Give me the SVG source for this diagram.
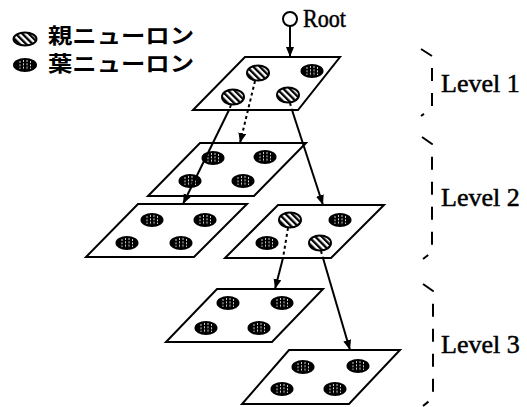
<svg xmlns="http://www.w3.org/2000/svg" width="527" height="407" viewBox="0 0 527 407">
  <style>
    .plane { fill: #fff; stroke: #000; stroke-width: 2; stroke-linejoin: miter; }
    .link { fill: none; stroke: #000; stroke-width: 2; }
    .hidden { fill: none; stroke: #000; stroke-width: 2; stroke-dasharray: 3 3; }
    .bracket { fill: none; stroke: #000; stroke-width: 2; stroke-dasharray: 13 12; }
    .lbl { font-family: "Liberation Serif", "DejaVu Serif", serif; font-size: 26px; fill: #000; stroke: #000; stroke-width: 0.5; }
    .legend { font-family: "Noto Sans CJK JP", "Noto Sans", sans-serif; font-size: 21px; font-weight: bold; fill: #000; }
  </style>
  <defs>
    <pattern id="hatch" width="4.6" height="4.6" patternUnits="userSpaceOnUse" patternTransform="rotate(-45)">
      <rect width="4.6" height="4.6" fill="#fff"/>
      <rect width="2.3" height="4.6" fill="#000"/>
    </pattern>
    <marker id="arrow" markerUnits="userSpaceOnUse" markerWidth="11" markerHeight="9" refX="10" refY="4" orient="auto">
      <path d="M0,0 L10,4 L0,8 z" fill="#000"/>
    </marker>
    <!-- parent neuron: hatched ellipse -->
    <g id="pn">
      <ellipse rx="11" ry="7.5" fill="url(#hatch)" stroke="#000" stroke-width="2"/>
    </g>
    <!-- leaf neuron: dark ellipse with light speckle -->
    <g id="ln">
      <ellipse rx="11.5" ry="7" fill="#000"/>
      <path d="M-5,-4v8M-1.5,-5v10M2,-5v10M5.5,-4v8" stroke="#fff" stroke-width="0.8" stroke-dasharray="2 1.3"/>
    </g>
  </defs>

  <!-- legend -->
  <g id="legend">
    <ellipse cx="25" cy="39" rx="11.5" ry="6.5" fill="url(#hatch)" stroke="#000" stroke-width="2"/>
    <text class="legend" x="48" y="43" textLength="146" lengthAdjust="spacingAndGlyphs">親ニューロン</text>
    <g transform="translate(25,65)">
      <ellipse rx="12" ry="7" fill="#000"/>
      <path d="M-5,-4v8M-1.5,-5v10M2,-5v10M5.5,-4v8" stroke="#fff" stroke-width="0.8" stroke-dasharray="2 1.3"/>
    </g>
    <text class="legend" x="48" y="71" textLength="146" lengthAdjust="spacingAndGlyphs">葉ニューロン</text>
  </g>

  <!-- root -->
  <g id="root">
    <circle cx="290" cy="19" r="7" fill="#fff" stroke="#000" stroke-width="2"/>
    <text class="lbl" x="303" y="27" font-size="24" textLength="43" lengthAdjust="spacingAndGlyphs">Root</text>
  </g>

  <!-- level 1 map -->
  <g id="l1">
    <polygon class="plane" points="245,57 340,57 298,110 193,110"/>
    <use href="#pn" x="258" y="73"/>
    <use href="#ln" x="312" y="71"/>
    <use href="#pn" x="233" y="97"/>
    <use href="#pn" x="288" y="95"/>
  </g>

  <!-- level 2, upper map -->
  <g id="l2a">
    <polygon class="plane" points="200,143 306,143 254,196 148,196"/>
    <use href="#ln" x="213" y="158"/>
    <use href="#ln" x="265" y="157"/>
    <use href="#ln" x="190" y="181"/>
    <use href="#ln" x="243" y="181"/>
  </g>

  <!-- level 2, lower left map -->
  <g id="l2b">
    <polygon class="plane" points="138,204 247,204 194,257 86,257"/>
    <use href="#ln" x="152" y="220"/>
    <use href="#ln" x="205" y="220"/>
    <use href="#ln" x="127" y="243"/>
    <use href="#ln" x="181" y="243"/>
  </g>

  <!-- level 2, lower right map -->
  <g id="l2c">
    <polygon class="plane" points="278,205 384,205 331,258 225,258"/>
    <use href="#pn" x="290" y="220"/>
    <use href="#ln" x="340" y="220"/>
    <use href="#ln" x="267" y="243"/>
    <use href="#pn" x="320" y="243"/>
  </g>

  <!-- level 3, upper map -->
  <g id="l3a">
    <polygon class="plane" points="217,289 323,289 272,342 166,342"/>
    <use href="#ln" x="228" y="303"/>
    <use href="#ln" x="282" y="303"/>
    <use href="#ln" x="206" y="328"/>
    <use href="#ln" x="259" y="328"/>
  </g>

  <!-- level 3, lower map -->
  <g id="l3b">
    <polygon class="plane" points="289,350 400,350 349,404 242,404"/>
    <use href="#ln" x="303" y="367"/>
    <use href="#ln" x="358" y="366"/>
    <use href="#ln" x="282" y="389"/>
    <use href="#ln" x="335" y="389"/>
  </g>

  <!-- connectors -->
  <g id="connectors">
    <line class="link" x1="290" y1="26" x2="290" y2="57" marker-end="url(#arrow)"/>
    <!-- level 1 to level 2 -->
    <line class="hidden" x1="255" y1="81" x2="240" y2="143" marker-end="url(#arrow)"/>
    <line class="hidden" x1="231" y1="105" x2="229" y2="110"/>
    <line class="link" x1="229" y1="110" x2="183" y2="204" marker-end="url(#arrow)"/>
    <line class="hidden" x1="290" y1="103" x2="292" y2="110"/>
    <line class="link" x1="292" y1="110" x2="323" y2="205" marker-end="url(#arrow)"/>
    <!-- level 2 to level 3 -->
    <line class="hidden" x1="288" y1="228" x2="283" y2="258"/>
    <line class="link" x1="283" y1="258" x2="275" y2="289" marker-end="url(#arrow)"/>
    <line class="hidden" x1="321" y1="251" x2="323" y2="258"/>
    <line class="link" x1="323" y1="258" x2="350" y2="350" marker-end="url(#arrow)"/>
  </g>

  <!-- level brackets and labels -->
  <g id="levels">
    <path class="bracket" d="M421,49 L432,56 L432,108 L421,116"/>
    <text class="lbl" x="441" y="92">Level 1</text>
    <path class="bracket" d="M422,137 L432,144 L432,252 L423,259"/>
    <text class="lbl" x="441" y="206">Level 2</text>
    <path class="bracket" d="M423,284 L433,291 L433,398 L423,406"/>
    <text class="lbl" x="441" y="353">Level 3</text>
  </g>
</svg>
